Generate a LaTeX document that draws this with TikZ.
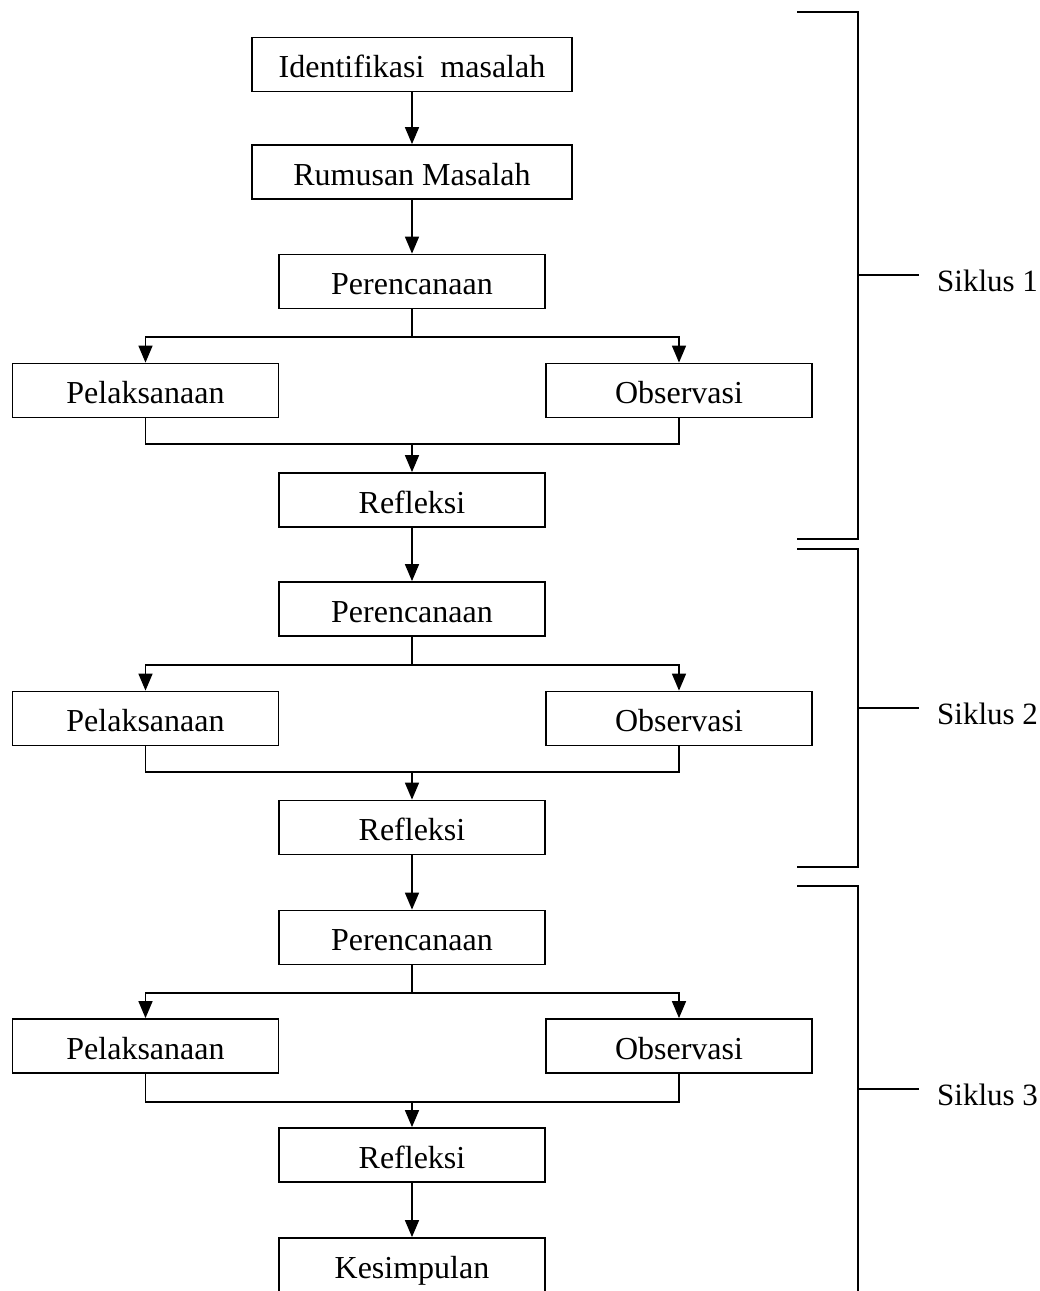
\documentclass[tikz,border=0pt]{standalone}
\usepackage{fontspec}
\setmainfont{Liberation Serif}
\usepackage{tikz}
\usetikzlibrary{arrows.meta,positioning}

\tikzset{
	box/.style={draw,line width=1.8pt,minimum height=54pt,inner sep=0pt,
		font=\fontsize{32}{36}\selectfont,text height=26pt,text depth=0pt},
	widebox/.style={box,minimum width=320pt},
	stepbox/.style={box,minimum width=266pt},
	arr/.style={line width=1.6pt,-{Triangle[length=17pt,width=14pt]}},
	conn/.style={line width=1.6pt},
	siklus/.style={font=\fontsize{31}{36}\selectfont,inner xsep=18pt,inner ysep=0pt,
		text height=32pt,text depth=0pt,anchor=west}
}

\begin{document}
\begin{tikzpicture}[x=1pt,y=1pt,yscale=-1,xscale=1]
		\useasboundingbox (0,0) rectangle (1040,1291);
		
		% Text Node
		\node [widebox] (ident) at (412,64.5) {Identifikasi\ \ masalah};
		% Text Node
		\node [widebox] (rumus) at (412,172) {Rumusan Masalah};
		
		%Siklus 1
		\node [stepbox] (ren1) at (412,281.5) {Perencanaan};
		\node [stepbox] (pel1) at (145.5,390.5) {Pelaksanaan};
		\node [stepbox] (obs1) at (679,390.5) {Observasi};
		\node [stepbox] (ref1) at (412,500) {Refleksi};
		\coordinate (br1) at (412,337);
		\coordinate (mg1) at (412,444);
		
		%Siklus 2
		\node [stepbox] (ren2) at (412,609) {Perencanaan};
		\node [stepbox] (pel2) at (145.5,718.5) {Pelaksanaan};
		\node [stepbox] (obs2) at (679,718.5) {Observasi};
		\node [stepbox] (ref2) at (412,827.5) {Refleksi};
		\coordinate (br2) at (412,665);
		\coordinate (mg2) at (412,772);
		
		%Siklus 3
		\node [stepbox] (ren3) at (412,937.5) {Perencanaan};
		\node [stepbox] (pel3) at (145.5,1046) {Pelaksanaan};
		\node [stepbox] (obs3) at (679,1046) {Observasi};
		\node [stepbox] (ref3) at (412,1155) {Refleksi};
		\coordinate (br3) at (412,993);
		\coordinate (mg3) at (412,1102);
		\node [stepbox] (kes) at (412,1265) {Kesimpulan};
		
		%Straight Lines
		\draw [arr] (ident) -- (rumus);
		\draw [arr] (rumus) -- (ren1);
		\draw [conn] (ren1) -- (br1);
		\draw [arr] (br1) -| (pel1);
		\draw [arr] (br1) -| (obs1);
		\draw [conn] (pel1) |- (mg1);
		\draw [conn] (obs1) |- (mg1);
		\draw [arr] (mg1) -- (ref1);
		\draw [arr] (ref1) -- (ren2);
		\draw [conn] (ren2) -- (br2);
		\draw [arr] (br2) -| (pel2);
		\draw [arr] (br2) -| (obs2);
		\draw [conn] (pel2) |- (mg2);
		\draw [conn] (obs2) |- (mg2);
		\draw [arr] (mg2) -- (ref2);
		\draw [arr] (ref2) -- (ren3);
		\draw [conn] (ren3) -- (br3);
		\draw [arr] (br3) -| (pel3);
		\draw [arr] (br3) -| (obs3);
		\draw [conn] (pel3) |- (mg3);
		\draw [conn] (obs3) |- (mg3);
		\draw [arr] (mg3) -- (ref3);
		\draw [arr] (ref3) -- (kes);
		
		%Brackets
		\node [siklus] (sik1) at (919,275) {Siklus 1};
		\node [siklus] (sik2) at (919,708) {Siklus 2};
		\node [siklus] (sik3) at (919,1089) {Siklus 3};
		\coordinate (b1top) at (797,12);
		\coordinate (b1bot) at (797,539);
		\coordinate (b2top) at (797,549);
		\coordinate (b2bot) at (797,867);
		\coordinate (b3top) at (797,886);
		\coordinate (b3bot) at (858,1300);
		\draw [conn] (b1top) -- ++(61,0) |- (b1bot);
		\draw [conn] (858,275) -- (sik1.west);
		\draw [conn] (b2top) -- ++(61,0) |- (b2bot);
		\draw [conn] (858,708) -- (sik2.west);
		\draw [conn] (b3top) -| (b3bot);
		\draw [conn] (858,1089) -- (sik3.west);
		
\end{tikzpicture}
\end{document}
